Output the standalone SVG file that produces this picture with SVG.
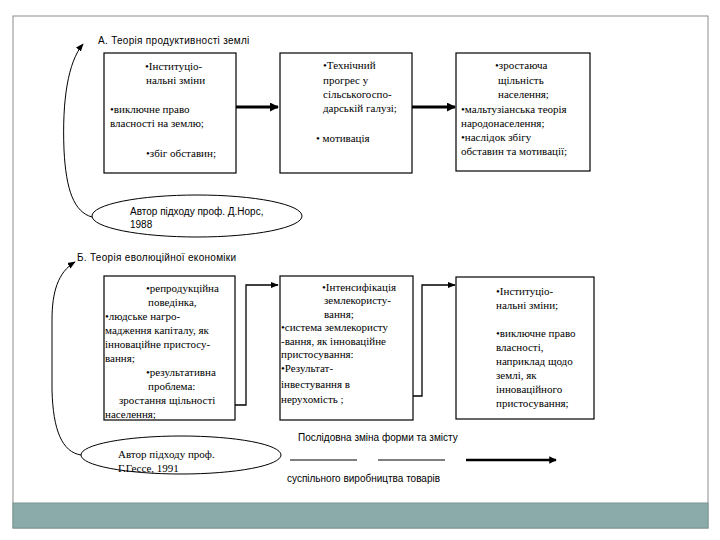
<svg xmlns="http://www.w3.org/2000/svg" width="720" height="540" viewBox="0 0 720 540">
<style>
.box{fill:#fff;stroke:#000;stroke-width:1.2}
.ser{font-family:"Liberation Serif","Times New Roman","DejaVu Serif",serif;font-size:11px;fill:#000}
.san{font-family:"Liberation Sans",Arial,sans-serif;font-size:10px;letter-spacing:0.3px;fill:#000}
.san2{font-family:"Liberation Sans",Arial,sans-serif;font-size:10px;fill:#000}
.thick{fill:none;stroke:#000;stroke-width:3}
.thin{fill:none;stroke:#000;stroke-width:1.3}
.curve{fill:none;stroke:#000;stroke-width:1}
</style>
<defs>
<marker id="ah" viewBox="0 0 10 10" refX="9" refY="5" markerWidth="3" markerHeight="3" orient="auto" markerUnits="strokeWidth"><path d="M0,0 L10,5 L0,10 z" fill="#000"/></marker>
<marker id="ahs" viewBox="0 0 10 10" refX="9" refY="5" markerWidth="6" markerHeight="6" orient="auto" markerUnits="strokeWidth"><path d="M0,1 L10,5 L0,9 z" fill="#000"/></marker>
<marker id="ahc" viewBox="0 0 10 10" refX="9" refY="5" markerWidth="8" markerHeight="8" orient="auto" markerUnits="strokeWidth"><path d="M0,1 L10,5 L0,9 z" fill="#000"/></marker>
</defs>
<rect x="0" y="0" width="720" height="540" fill="#fff"/>
<g id="frame">
<rect x="13" y="16" width="695" height="512" fill="#fff" stroke="#8c8c8c" stroke-width="1"/>
<rect x="13" y="503" width="695" height="25" fill="#8aabaa" stroke="#7a9696" stroke-width="1"/>
</g>
<g id="titles">
<text class="san" x="98" y="44">А. Теорія  продуктивності землі</text>
<text class="san" x="77" y="261">Б.  Теорія еволюційної економіки</text>
</g>
<g id="connectors">
<line class="thick" x1="236" y1="107" x2="278" y2="107" marker-end="url(#ah)"/>
<line class="thick" x1="412" y1="107" x2="455" y2="107" marker-end="url(#ah)"/>
<polyline class="thin" points="235,405 246,405 246,285 278,285" marker-end="url(#ahs)"/>
<polyline class="thin" points="413,396 422,396 422,285 455,285" marker-end="url(#ahs)"/>
<path class="curve" d="M92,217 C74,212 66,190 64,150 C62,100 68,62 83,44" marker-end="url(#ahc)"/>
<path class="curve" d="M81,455 C62,452 53,430 52,390 L52,320 C52,292 58,272 75,262" marker-end="url(#ahc)"/>
</g>
<g id="boxA1">
<rect class="box" x="104" y="53" width="132" height="120"/>
<text class="ser" x="145" y="70">•Інституціо-</text>
<text class="ser" x="146" y="84">нальні зміни</text>
<text class="ser" x="110" y="113">•виключне право</text>
<text class="ser" x="110" y="127">власності на землю;</text>
<text class="ser" x="146" y="157">•збіг обставин;</text>
</g>
<g id="boxA2">
<rect class="box" x="280" y="53" width="132" height="120"/>
<text class="ser" x="323" y="69">•Технічний</text>
<text class="ser" x="323" y="84">прогрес у</text>
<text class="ser" x="323" y="98">сільськогоспо-</text>
<text class="ser" x="323" y="112">дарській галузі;</text>
<text class="ser" x="316" y="142">• мотивація</text>
</g>
<g id="boxA3">
<rect class="box" x="456" y="53" width="134" height="118"/>
<text class="ser" x="495" y="69">•зростаюча</text>
<text class="ser" x="498" y="84">щільність</text>
<text class="ser" x="498" y="98">населення;</text>
<text class="ser" x="461" y="113">•мальтузіанська теорія</text>
<text class="ser" x="461" y="127">народонаселення;</text>
<text class="ser" x="461" y="141">•наслідок збігу</text>
<text class="ser" x="461" y="155">обставин та мотивації;</text>
</g>
<g id="ellipseA">
<ellipse cx="197" cy="216" rx="105" ry="21" fill="#fff" stroke="#000" stroke-width="1"/>
<text class="san2" x="130" y="215">Автор підходу проф. Д.Норс,</text>
<text class="san2" x="130" y="228">1988</text>
</g>
<g id="boxB1">
<rect class="box" x="104" y="276" width="131" height="144"/>
<text class="ser" x="146" y="292">•репродукційна</text>
<text class="ser" x="148" y="306">поведінка,</text>
<text class="ser" x="105" y="320">•людське нагро-</text>
<text class="ser" x="105" y="334">мадження капіталу, як</text>
<text class="ser" x="105" y="348">інноваційне пристосу-</text>
<text class="ser" x="105" y="362">вання;</text>
<text class="ser" x="146" y="376">•результативна</text>
<text class="ser" x="148" y="390">проблема:</text>
<text class="ser" x="119" y="404">зростання щільності</text>
<text class="ser" x="105" y="418">населення;</text>
</g>
<g id="boxB2">
<rect class="box" x="280" y="276" width="133" height="144"/>
<text class="ser" x="322" y="291">•Інтенсифікація</text>
<text class="ser" x="324" y="304">землекористу-</text>
<text class="ser" x="324" y="318">вання;</text>
<text class="ser" x="281" y="331">•система землекористу</text>
<text class="ser" x="281" y="345">-вання, як інноваційне</text>
<text class="ser" x="281" y="358">пристосування:</text>
<text class="ser" x="281" y="372">•Результат-</text>
<text class="ser" x="281" y="388">інвестування в</text>
<text class="ser" x="281" y="403">нерухомість  ;</text>
</g>
<g id="boxB3">
<rect class="box" x="456" y="277" width="138" height="142"/>
<text class="ser" x="496" y="295">•Інституціо-</text>
<text class="ser" x="496" y="309">нальні зміни;</text>
<text class="ser" x="496" y="337">•виключне право</text>
<text class="ser" x="496" y="351">власності,</text>
<text class="ser" x="496" y="365">наприклад щодо</text>
<text class="ser" x="496" y="379">землі, як</text>
<text class="ser" x="496" y="393">інноваційного</text>
<text class="ser" x="496" y="407">пристосування;</text>
</g>
<g id="ellipseB">
<ellipse cx="181" cy="455" rx="100" ry="19" fill="#fff" stroke="#000" stroke-width="1"/>
<text class="ser" x="118" y="458">Автор підходу проф.</text>
<text class="ser" x="118" y="472">Г.Гессе, 1991</text>
</g>
<g id="legend">
<text class="san2" x="298" y="441">Послідовна зміна форми та змісту</text>
<line x1="290" y1="460" x2="357" y2="460" stroke="#000" stroke-width="1"/>
<line x1="378" y1="460" x2="445" y2="460" stroke="#000" stroke-width="1"/>
<line x1="466" y1="460" x2="556" y2="460" stroke="#000" stroke-width="2.5" marker-end="url(#ah)"/>
<text class="san2" x="287" y="482">суспільного  виробництва товарів</text>
</g>
</svg>
